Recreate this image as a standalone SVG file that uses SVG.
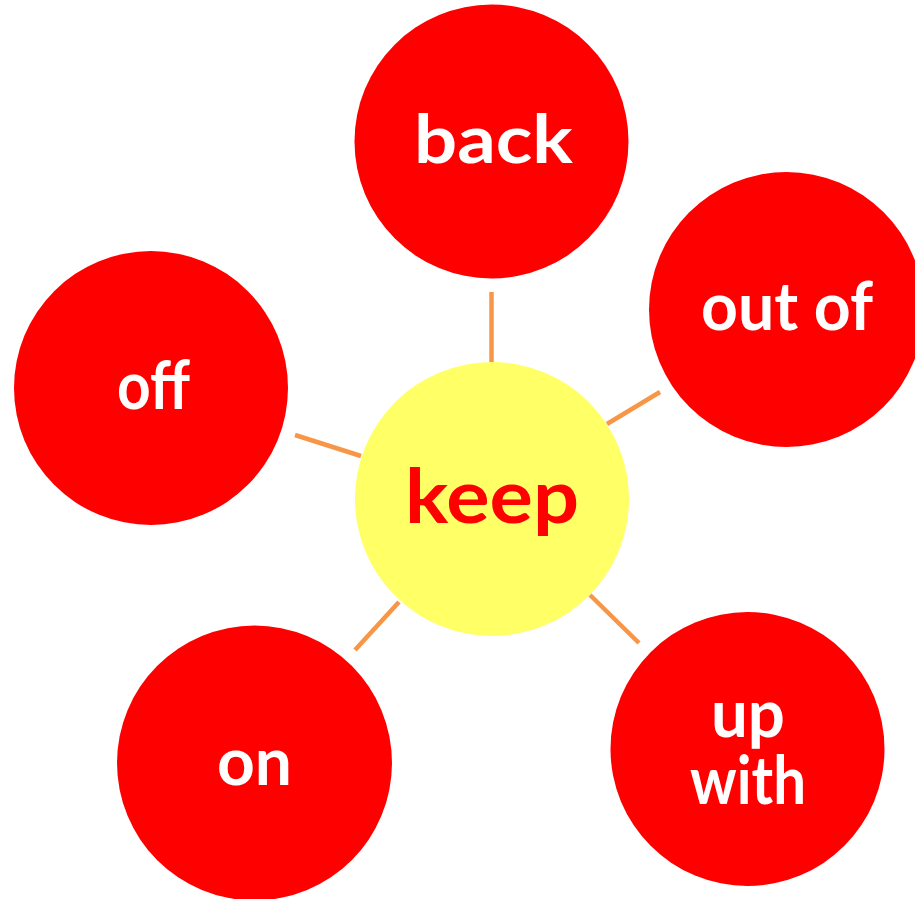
<svg xmlns="http://www.w3.org/2000/svg" width="915" height="899" viewBox="0 0 915 899">
<style>
.leaf{fill:#FF0000}
.hub{fill:#FFFF66}
.conn line{stroke:#F79646;stroke-width:4.5;stroke-linecap:butt}
.t{font-family:Lato,"Liberation Sans",sans-serif;font-weight:700;font-size:66px;fill:#FFFFFF;text-anchor:middle}
.tk{font-family:Lato,"Liberation Sans",sans-serif;font-weight:700;font-size:74px;fill:#FF0000;text-anchor:middle}
</style>
<rect width="915" height="899" fill="#FFFFFF"/>
<g id="connectors" class="conn">
<line x1="491.5" y1="292" x2="491.5" y2="362"/>
<line x1="660" y1="392" x2="607" y2="424"/>
<line x1="295" y1="435" x2="361" y2="456"/>
<line x1="399" y1="602" x2="355" y2="650"/>
<line x1="590" y1="595" x2="639" y2="643"/>
</g>
<g id="node-back">
<circle class="leaf" cx="491.5" cy="141.5" r="137"/>
<text class="t" x="493.5" y="163" textLength="159" lengthAdjust="spacingAndGlyphs">back</text>
</g>
<g id="node-outof">
<circle class="leaf" cx="786.5" cy="309.5" r="137.5"/>
<text class="t" x="787" y="330" textLength="172" lengthAdjust="spacingAndGlyphs">out of</text>
</g>
<g id="node-off">
<circle class="leaf" cx="151" cy="388" r="137"/>
<text class="t" x="153.5" y="409" textLength="73" lengthAdjust="spacingAndGlyphs">off</text>
</g>
<g id="node-keep">
<circle class="hub" cx="492" cy="499" r="137"/>
<text class="tk" x="492" y="523" textLength="174" lengthAdjust="spacingAndGlyphs">keep</text>
</g>
<g id="node-on">
<circle class="leaf" cx="254.5" cy="763" r="137.5"/>
<text class="t" x="254.5" y="785" textLength="75" lengthAdjust="spacingAndGlyphs">on</text>
</g>
<g id="node-upwith">
<circle class="leaf" cx="747.5" cy="749" r="137"/>
<text class="t" x="748" y="737" textLength="74" lengthAdjust="spacingAndGlyphs">up</text>
<text class="t" x="748" y="804" textLength="116" lengthAdjust="spacingAndGlyphs">with</text>
</g>
</svg>
